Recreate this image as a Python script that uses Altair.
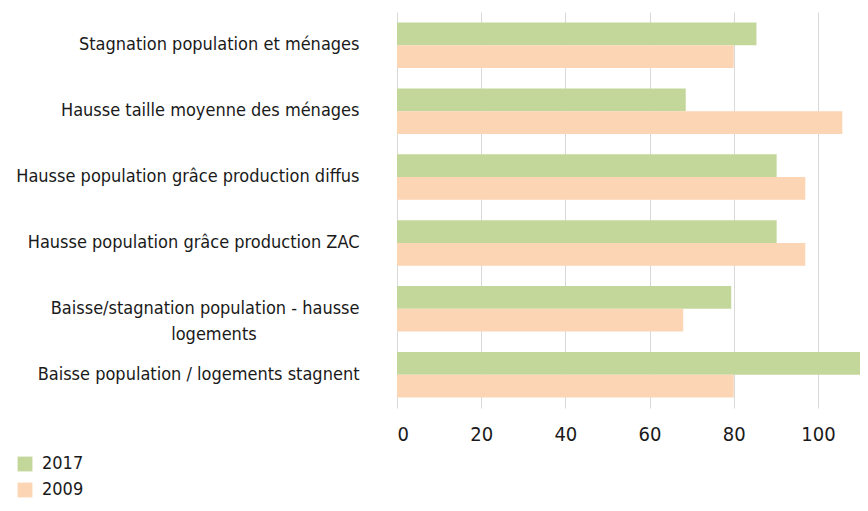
import altair as alt
import pandas as pd

categories = [
    "Stagnation population et ménages",
    "Hausse taille moyenne des ménages",
    "Hausse population grâce production diffus",
    "Hausse population grâce production ZAC",
    "Baisse/stagnation population - hausse|logements" + "\u00a0" * 20 + "\u200b",
    "Baisse population / logements stagnent",
]
values_2017 = [85.4, 68.6, 90.2, 90.2, 79.4, 118]
values_2009 = [80, 105.8, 97, 97, 68, 80]
series = ["2017", "2009"]
colors = ["#C4D79B", "#FCD5B5"]

rows = []
for c, a, b in zip(categories, values_2017, values_2009):
    rows.append({"cat": c, "year": "2017", "v": a})
    rows.append({"cat": c, "year": "2009", "v": b})
df = pd.DataFrame(rows)

FONT = "DejaVu Sans Condensed, sans-serif"

chart = alt.Chart(df).mark_bar(clip=True).encode(
    x=alt.X("v:Q", scale=alt.Scale(domain=[0, 110], nice=False, zero=True),
            axis=alt.Axis(values=[0, 20, 40, 60, 80, 100], title=None, domain=False,
                          ticks=False, grid=True, gridColor="#d9d9d9", labelFontSize=20,
                          labelColor="#1a1a1a", labelPadding=16, labelFont=FONT)),
    y=alt.Y("cat:N", sort=categories,
            scale=alt.Scale(paddingInner=0.31, paddingOuter=0.16),
            axis=alt.Axis(title=None, domain=False, ticks=False, labelFontSize=18,
                          labelColor="#1a1a1a", labelPadding=38, labelFont=FONT,
                          labelLimit=400, labelLineHeight=26,
                          labelExpr="split(datum.label, '|')")),
    yOffset=alt.YOffset("year:N", sort=series),
    color=alt.Color("year:N", sort=series,
                    scale=alt.Scale(domain=series, range=colors),
                    legend=alt.Legend(title=None, orient="none", legendX=-381, legendY=443,
                                      symbolType="square", symbolSize=220, symbolStrokeWidth=0,
                                      labelFontSize=18, labelFont=FONT, labelColor="#1a1a1a",
                                      rowPadding=8, labelOffset=8)),
).properties(
    width=463, height=396,
    autosize=alt.AutoSizeParams(type="none"),
    padding={"left": 389, "top": 4, "right": 0, "bottom": 95},
).configure_view(stroke=None)

chart.save("out.html", embed_options={"renderer": "svg", "actions": False})
